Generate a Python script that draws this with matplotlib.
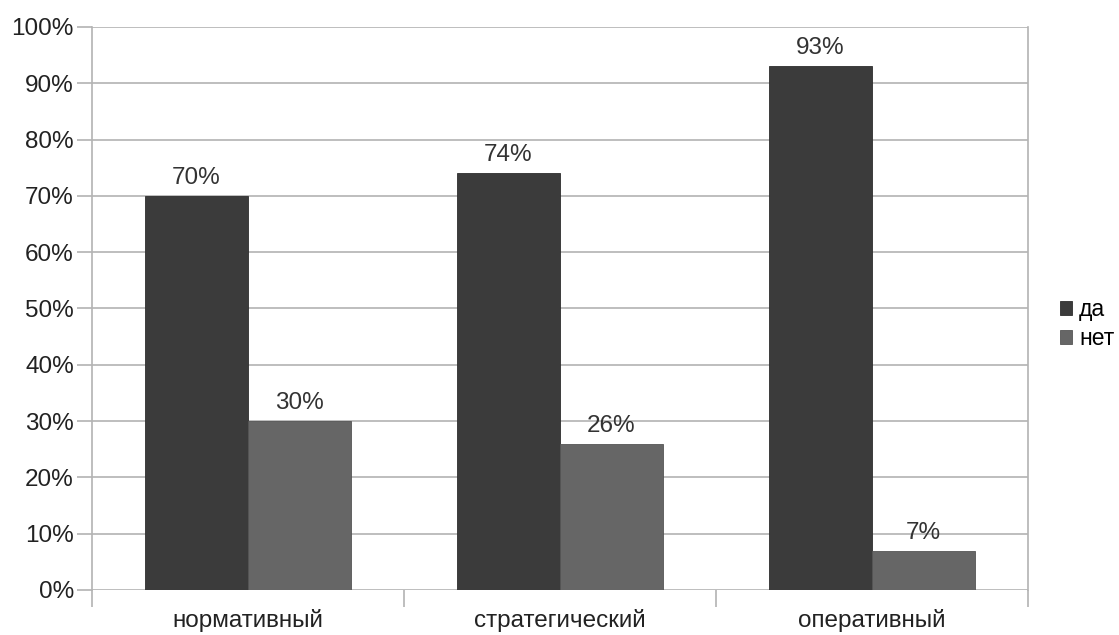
import numpy as np
import matplotlib.pyplot as plt

plt.rcParams['font.family'] = ['Liberation Sans', 'DejaVu Sans']

categories = ['нормативный', 'стратегический', 'оперативный']
series_names = ['да', 'нет']
yes_vals = [70, 74, 93]
no_vals = [30, 26, 7]
colors = ['#3b3b3b', '#666666']

fig = plt.figure(figsize=(11.19, 6.35), dpi=100)
ax = fig.add_axes([0.0822, 0.0709, 0.8365, 0.8866])

x = np.arange(len(categories))
w = 0.33
for i, (vals, name) in enumerate(zip([yes_vals, no_vals], series_names)):
    pos = x - w / 2 + i * w
    bars = ax.bar(pos, vals, w, color=colors[i], label=name, zorder=3,
                  edgecolor='#2e2e2e' if i == 0 else '#555555', linewidth=0.6)
    for b, v in zip(bars, vals):
        ax.annotate(f'{v}%', (b.get_x() + b.get_width() / 2, v),
                    xytext=(0, 5), textcoords='offset points',
                    ha='center', va='bottom', fontsize=17.5, color='#333333', zorder=4)

ax.set_xlim(-0.5, 2.5)
ax.set_ylim(0, 100)
ax.set_yticks(np.arange(0, 101, 10))
ax.set_yticklabels([f'{t}%' for t in range(0, 101, 10)])
ax.yaxis.grid(True, color='#b3b3b3', linewidth=1.2, zorder=0)

ax.set_xticks(x)
ax.set_xticklabels(categories)
ax.set_xticks([-0.5, 0.5, 1.5, 2.5], minor=True)
ax.tick_params(axis='x', which='major', length=0, pad=14, labelsize=17.5)
ax.tick_params(axis='x', which='minor', length=12, color='#b3b3b3', width=1.2)
ax.tick_params(axis='y', length=11, color='#b3b3b3', width=1.2, labelsize=17.5, pad=2)
for lab in ax.get_xticklabels() + ax.get_yticklabels():
    lab.set_color('#222222')

for s in ['top', 'bottom']:
    ax.spines[s].set_visible(False)
for s in ['left', 'right']:
    ax.spines[s].set_color('#b3b3b3')
    ax.spines[s].set_linewidth(1.2)

fig.legend(loc='center left', bbox_to_anchor=(0.947, 0.49), frameon=False,
           fontsize=16.5, handlelength=0.55, handleheight=0.55, handletextpad=0.3,
           labelspacing=0.25, borderpad=0, borderaxespad=0)

fig.savefig('out.png', dpi=100)
